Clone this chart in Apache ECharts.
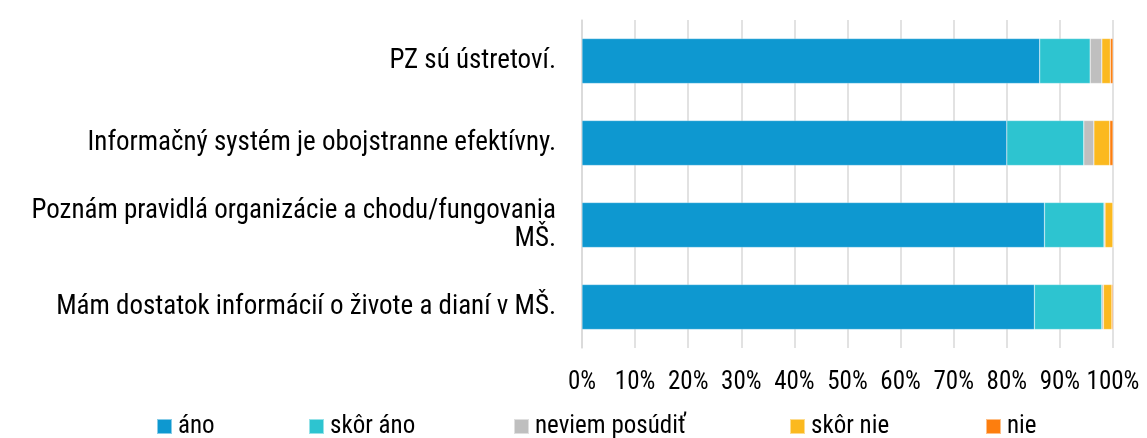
<!DOCTYPE html>
<html>
<head>
<meta charset="utf-8">
<script src="https://cdn.jsdelivr.net/npm/echarts@6/dist/echarts.min.js"></script>
<style>
  html, body { margin: 0; padding: 0; background: #fff; }
  #chart { width: 1147px; height: 438px; }
</style>
</head>
<body>
<div id="chart"></div>
<script>
// statements, bottom to top (category axis is drawn from the bottom)
const categories = [
  "Mám dostatok informácií o živote a dianí v MŠ.",
  "Poznám pravidlá organizácie a chodu/fungovania\nMŠ.",
  "Informačný systém je obojstranne efektívny.",
  "PZ sú ústretoví."
];
const seriesNames = ["áno", "skôr áno", "neviem posúdiť", "skôr nie", "nie"];
const ano      = [85.2, 87.1, 80.0, 86.2];
const skorAno  = [12.7, 11.2, 14.5, 9.5];
const neviem   = [0.3, 0.2, 1.9, 2.2];
const skorNie  = [1.6, 1.5, 3.0, 1.6];
const nie      = [0.2, 0.0, 0.6, 0.5];
const xTicks = [0, 10, 20, 30, 40, 50, 60, 70, 80, 90, 100];

const colors = ["#0e98d0", "#2dc4d0", "#bfbfbf", "#fbb91f", "#fd7e0e"];
const values = [ano, skorAno, neviem, skorNie, nie];
const font = "'Roboto Condensed', 'Liberation Sans Narrow', 'DejaVu Sans Condensed', Roboto, sans-serif";

const chart = echarts.init(document.getElementById("chart"));
const legendLeft = [156, 308, 513, 789, 985];

const option = {
  animation: false,
  textStyle: { fontFamily: font },
  grid: { left: 582, right: 34, top: 20, bottom: 90, containLabel: false, outerBoundsMode: "none" },
  legend: seriesNames.map((n, i) => ({
    data: [n],
    left: legendLeft[i],
    top: 414,
    padding: 0,
    icon: "rect",
    itemWidth: 15,
    itemHeight: 15,
    textStyle: { fontFamily: font, fontSize: 25, color: "#000", padding: [0, 0, 0, 1] }
  })),
  xAxis: {
    type: "value",
    min: 0,
    max: 100,
    interval: 10,
    axisLabel: {
      formatter: v => xTicks.includes(v) ? v + "%" : "",
      fontSize: 25,
      color: "#000",
      margin: 22,
      fontFamily: font
    },
    splitLine: { show: true, lineStyle: { color: "#d9d9d9", width: 1.5 } },
    axisLine: { show: false },
    axisTick: { show: false }
  },
  yAxis: {
    type: "category",
    data: categories,
    axisLabel: {
      fontSize: 27,
      color: "#000",
      margin: 26,
      lineHeight: 28,
      align: "right",
      fontFamily: font,
      formatter: v => v.split("\n").map(s => "{r|" + s + "}").join("\n"),
      rich: { r: { align: "right", width: 530, fontSize: 27, lineHeight: 28, fontFamily: font, color: "#000" } }
    },
    axisLine: { show: true, lineStyle: { color: "#d9d9d9", width: 1.5 } },
    axisTick: { show: false },
    splitLine: { show: false }
  },
  series: seriesNames.map((n, i) => ({
    name: n,
    type: "bar",
    stack: "total",
    barWidth: 45,
    data: values[i],
    itemStyle: { color: colors[i], borderColor: "rgba(255,255,255,0.5)", borderWidth: 0.5 }
  }))
};
chart.setOption(option);
</script>
</body>
</html>
